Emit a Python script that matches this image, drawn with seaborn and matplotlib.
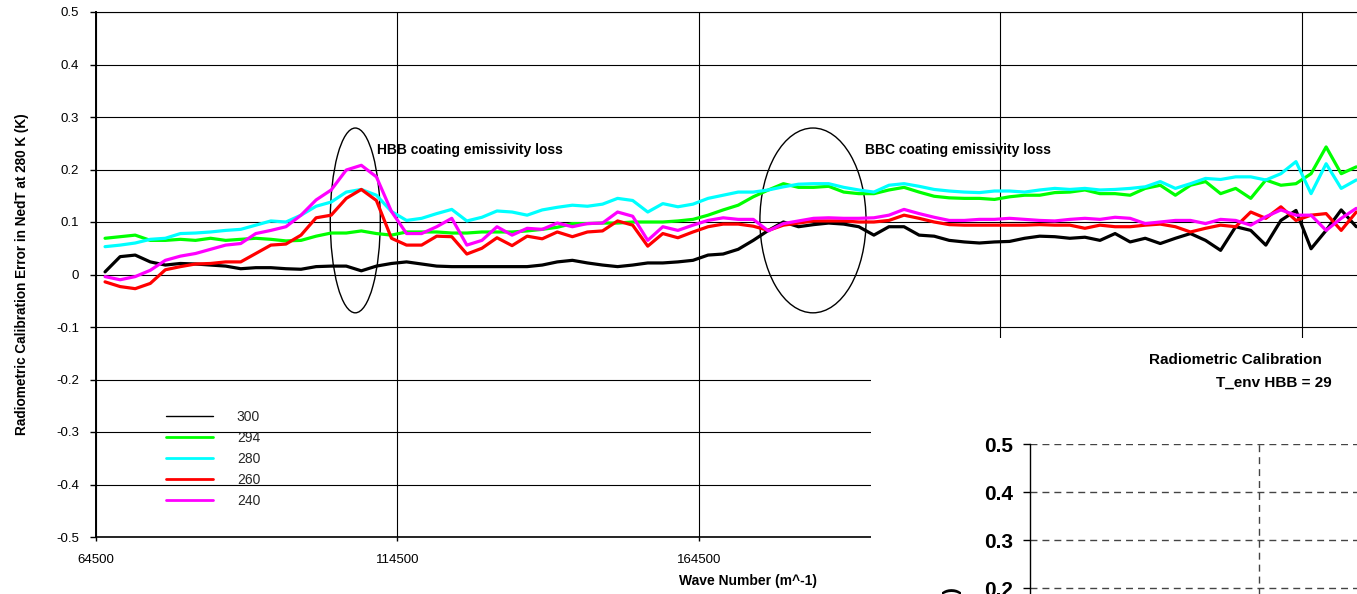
import numpy as np
import pandas as pd
import matplotlib
matplotlib.use("Agg")
import matplotlib.pyplot as plt
import seaborn as sns
from matplotlib.lines import Line2D
from matplotlib.patches import Ellipse
from matplotlib.ticker import FuncFormatter

# wave number samples (m^-1)
wave = [66000, 68500, 71000, 73500, 76000, 78500, 81000, 83500, 86000, 88500,
        91000, 93500, 96000, 98500, 101000, 103500, 106000, 108500, 111000, 113500,
        116000, 118500, 121000, 123500, 126000, 128500, 131000, 133500, 136000, 138500,
        141000, 143500, 146000, 148500, 151000, 153500, 156000, 158500, 161000, 163500,
        166000, 168500, 171000, 173500, 176000, 178500, 181000, 183500, 186000, 188500,
        191000, 193500, 196000, 198500, 201000, 203500, 206000, 208500, 211000, 213500,
        216000, 218500, 221000, 223500, 226000, 228500, 231000, 233500, 236000, 238500,
        241000, 243500, 246000, 248500, 251000, 253500, 256000, 258500, 261000, 263500,
        266000, 268500, 271000, 273500]

err_300 = [0.005, 0.034, 0.037, 0.024, 0.018, 0.021, 0.020, 0.018, 0.016, 0.011,
           0.013, 0.013, 0.011, 0.010, 0.015, 0.016, 0.016, 0.007, 0.016, 0.021,
           0.024, 0.020, 0.016, 0.015, 0.015, 0.015, 0.015,
           0.015, 0.015, 0.018, 0.024, 0.027, 0.022, 0.018, 0.015, 0.018, 0.022,
           0.022, 0.024, 0.027, 0.037, 0.039, 0.048, 0.065, 0.084, 0.100, 0.091,
           0.095, 0.098, 0.096, 0.091, 0.075, 0.091, 0.091, 0.075,
           0.073, 0.065, 0.062, 0.060, 0.062, 0.063, 0.069, 0.073, 0.072, 0.069,
           0.071, 0.065, 0.078, 0.062, 0.069, 0.059, 0.069, 0.078, 0.065, 0.046,
           0.091, 0.084, 0.056, 0.103, 0.122, 0.049, 0.084, 0.123, 0.091]

err_294 = [0.069, 0.072, 0.075, 0.065, 0.065, 0.067, 0.065, 0.069, 0.065, 0.067,
           0.069, 0.067, 0.064, 0.065, 0.073, 0.079, 0.079, 0.083, 0.078, 0.075,
           0.081, 0.081, 0.081, 0.079, 0.079, 0.081, 0.081,
           0.081, 0.083, 0.086, 0.090, 0.097, 0.097, 0.098, 0.098, 0.100, 0.100,
           0.100, 0.102, 0.105, 0.113, 0.123, 0.132, 0.148, 0.161, 0.173, 0.166,
           0.166, 0.168, 0.157, 0.154, 0.154, 0.161, 0.166, 0.157,
           0.149, 0.146, 0.145, 0.145, 0.143, 0.148, 0.151, 0.151, 0.156, 0.157,
           0.161, 0.154, 0.154, 0.151, 0.164, 0.170, 0.151, 0.170, 0.177, 0.154,
           0.164, 0.145, 0.180, 0.170, 0.173, 0.192, 0.243, 0.192, 0.205]

err_280 = [0.053, 0.056, 0.060, 0.067, 0.069, 0.078, 0.079, 0.081, 0.084, 0.086,
           0.094, 0.102, 0.100, 0.113, 0.130, 0.138, 0.157, 0.162, 0.151, 0.120,
           0.103, 0.107, 0.116, 0.124, 0.102, 0.109, 0.121,
           0.119, 0.113, 0.123, 0.128, 0.132, 0.130, 0.134, 0.145, 0.141, 0.119,
           0.135, 0.129, 0.134, 0.145, 0.151, 0.157, 0.157, 0.161, 0.167, 0.172,
           0.173, 0.173, 0.166, 0.161, 0.157, 0.170, 0.173, 0.168,
           0.162, 0.159, 0.157, 0.156, 0.159, 0.159, 0.157, 0.161, 0.164, 0.162,
           0.164, 0.161, 0.162, 0.164, 0.167, 0.177, 0.164, 0.173, 0.183, 0.181,
           0.186, 0.186, 0.180, 0.192, 0.215, 0.154, 0.211, 0.164, 0.180]

err_260 = [-0.014, -0.023, -0.027, -0.017, 0.009, 0.015, 0.020, 0.021, 0.024, 0.024,
           0.040, 0.056, 0.058, 0.075, 0.108, 0.113, 0.145, 0.162, 0.141, 0.069,
           0.056, 0.056, 0.073, 0.072, 0.039, 0.050, 0.070,
           0.055, 0.073, 0.068, 0.081, 0.072, 0.081, 0.083, 0.102, 0.094, 0.054,
           0.078, 0.070, 0.081, 0.091, 0.096, 0.096, 0.092, 0.084, 0.094, 0.098,
           0.102, 0.102, 0.102, 0.100, 0.100, 0.103, 0.113, 0.107,
           0.100, 0.095, 0.094, 0.094, 0.094, 0.094, 0.094, 0.095, 0.094, 0.094,
           0.088, 0.094, 0.091, 0.091, 0.094, 0.096, 0.091, 0.081, 0.088, 0.094,
           0.091, 0.119, 0.107, 0.129, 0.103, 0.113, 0.116, 0.084, 0.119]

err_240 = [-0.004, -0.010, -0.004, 0.008, 0.027, 0.035, 0.040, 0.048, 0.056, 0.059,
           0.078, 0.084, 0.091, 0.113, 0.142, 0.161, 0.199, 0.208, 0.186, 0.120,
           0.078, 0.078, 0.091, 0.107, 0.056, 0.065, 0.091,
           0.075, 0.088, 0.086, 0.098, 0.091, 0.097, 0.098, 0.119, 0.111, 0.065,
           0.091, 0.084, 0.094, 0.103, 0.108, 0.105, 0.105, 0.083, 0.097, 0.102,
           0.107, 0.108, 0.107, 0.107, 0.108, 0.113, 0.124, 0.116,
           0.109, 0.103, 0.103, 0.105, 0.105, 0.107, 0.105, 0.103, 0.102, 0.105,
           0.107, 0.105, 0.109, 0.107, 0.097, 0.100, 0.103, 0.103, 0.097, 0.105,
           0.103, 0.094, 0.110, 0.123, 0.113, 0.113, 0.084, 0.107, 0.126]

temps = ["300", "294", "280", "260", "240"]
colors = ["#000000", "#00ff00", "#00ffff", "#ff0000", "#ff00ff"]
x_ticks = [64500, 114500, 164500, 214500, 264500]
y_ticks = [-0.5, -0.4, -0.3, -0.2, -0.1, 0, 0.1, 0.2, 0.3, 0.4, 0.5]

series = dict(zip(temps, [err_300, err_294, err_280, err_260, err_240]))
df = pd.concat([pd.DataFrame({"wave": wave, "err": v, "temp": t}) for t, v in series.items()])

sns.set_theme(style="white")
plt.rcParams["font.family"] = ["Liberation Sans", "DejaVu Sans"]

W, H = 1357, 594
fig = plt.figure(figsize=(W / 100, H / 100), dpi=100)

# main chart (extends past the right edge of the picture)
ax = fig.add_axes([96 / W, 57 / H, 1266.3 / W, 525 / H])
sns.lineplot(data=df, x="wave", y="err", hue="temp", hue_order=temps,
             palette=dict(zip(temps, colors)), linewidth=2.3, legend=False,
             estimator=None, sort=False, ax=ax)
ax.set_xlim(64500, 274500)
ax.set_ylim(-0.5, 0.5)
ax.set_xticks(x_ticks)
ax.set_yticks(y_ticks)
ax.xaxis.set_major_formatter(FuncFormatter(lambda v, p: f"{int(v)}"))
ax.yaxis.set_major_formatter(FuncFormatter(lambda v, p: f"{round(v, 1):g}"))
ax.grid(True, color="black", linewidth=0.8)
ax.tick_params(axis="both", labelsize=9.5, colors="black")
ax.tick_params(axis="y", direction="out", length=4, width=1, pad=8, left=True)
ax.tick_params(axis="x", direction="out", length=3, width=1, pad=9, bottom=True)
ax.spines["right"].set_visible(False)
ax.spines["left"].set_color("black")
ax.spines["left"].set_linewidth(1.4)
ax.spines["bottom"].set_color("black")
ax.spines["bottom"].set_linewidth(1.2)
ax.spines["top"].set_color("black")
ax.spines["top"].set_linewidth(0.8)

ax.set_ylabel("Radiometric Calibration Error in NedT at 280 K (K)",
              fontsize=9.8, fontweight="bold", color="black")
ax.yaxis.set_label_coords(-(96 - 29) / 1266.3, 0.5)
ax.set_xlabel("Wave Number (m^-1)", fontsize=10, fontweight="bold", color="black")
ax.xaxis.set_label_coords((748 - 96) / 1266.3, -(574 - 537) / 525)

# highlighted regions
ax.add_patch(Ellipse((107500, 0.103), 8300, 0.352, fill=False, edgecolor="black", linewidth=1))
ax.add_patch(Ellipse((183400, 0.103), 17600, 0.352, fill=False, edgecolor="black", linewidth=1))
ax.text(111100, 0.237, "HBB coating emissivity loss", fontsize=10, fontweight="bold",
        ha="left", va="center", color="black")
ax.text(192000, 0.237, "BBC coating emissivity loss", fontsize=10, fontweight="bold",
        ha="left", va="center", color="black")

handles = [Line2D([], [], color=c, linewidth=(1 if t == "300" else 2)) for t, c in zip(temps, colors)]
ax.legend(handles, temps, loc="upper left", bbox_to_anchor=((166 - 96) / 1266.3, (537 - 410) / 525),
          frameon=False, fontsize=10, handlelength=3.4, handletextpad=1.7,
          labelspacing=0.5, borderpad=0, borderaxespad=0)

# second chart pasted over the lower right corner
bg = fig.add_axes([871 / W, 0, (W - 871) / W, (H - 338) / H], zorder=2)
bg.set_facecolor("white")
bg.set_xticks([])
bg.set_yticks([])
for s in bg.spines.values():
    s.set_visible(False)

ax2 = fig.add_axes([1030 / W, -330 / H, 458 / W, 480 / H], zorder=3)
ax2.set_facecolor("white")
ax2.set_xlim(0, 2)
ax2.set_ylim(-0.5, 0.5)
ax2.set_xticks([1])
ax2.set_xticklabels([""])
ax2.set_yticks([0.1, 0.2, 0.3, 0.4, 0.5])
ax2.yaxis.set_major_formatter(FuncFormatter(lambda v, p: f"{v:.1f}"))
ax2.grid(True, color="#444444", linewidth=1, linestyle=(0, (5, 3.6)))
ax2.tick_params(axis="y", labelsize=15, direction="out", length=5, width=1, pad=7,
                left=True, colors="black")
for lab in ax2.get_yticklabels():
    lab.set_fontweight("bold")
for s in ["top", "right", "bottom"]:
    ax2.spines[s].set_visible(False)
ax2.spines["left"].set_color("black")
ax2.spines["left"].set_linewidth(1)

fig.text(1149 / W, (H - 360) / H, "Radiometric Calibration", fontsize=11, fontweight="bold",
         ha="left", va="center", color="black", zorder=5)
fig.text(1216 / W, (H - 383) / H, "T_env HBB = 29", fontsize=11, fontweight="bold",
         ha="left", va="center", color="black", zorder=5)
fig.text(953 / W, (H - 587) / H, "Error (K)", fontsize=15, fontweight="bold", rotation=90,
         ha="center", va="top", color="black", zorder=5)

fig.savefig("out.png", dpi=100, facecolor="white")
